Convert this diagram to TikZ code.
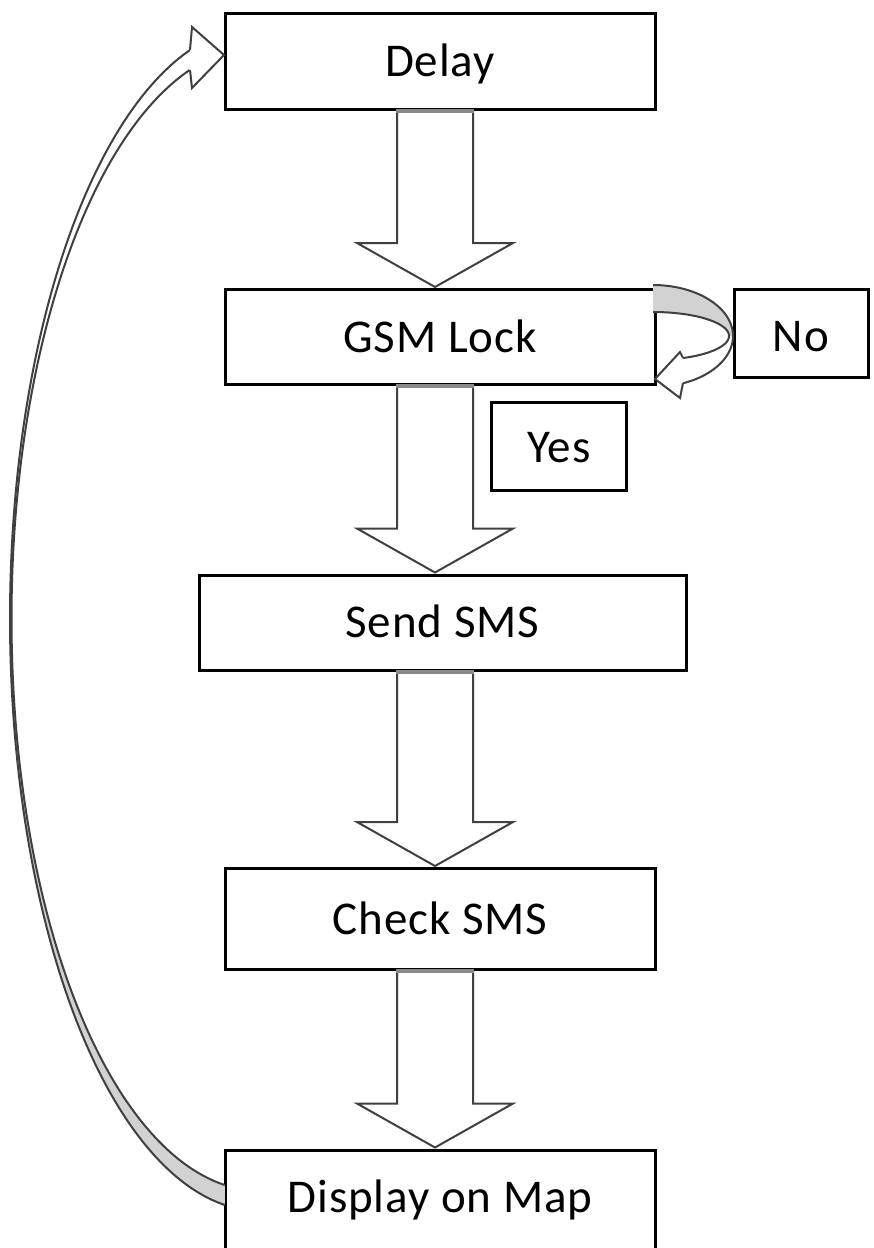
\documentclass[tikz,border=0pt]{standalone}
\usepackage{fontspec}
\setmainfont{Carlito}[LetterSpace=2]
\usetikzlibrary{calc}
\definecolor{arrline}{HTML}{404040}
\definecolor{arrtop}{HTML}{8A8A8A}
\definecolor{bandfill}{HTML}{D2D2D2}
\tikzset{
  lbl/.style={font=\fontsize{47}{54}\selectfont, text height=30pt, text depth=0pt},
  box/.style={draw=black, line width=3pt, fill=white, inner sep=0pt, lbl},
  blk/.style={draw=arrline, line width=2pt, fill=white, line join=miter},
  blktop/.style={draw=arrtop, line width=4pt},
  band/.style={draw=arrline, line width=2pt},
}
\begin{document}
\begin{tikzpicture}[x=1pt,y=-1pt]
\useasboundingbox (0,0) rectangle (874,1248);
\fill[white] (0,0) rectangle (874,1248);
% boxes
\node[box, minimum width=430pt, minimum height=96pt] (delay) at (440,61) {Delay};
\node[box, minimum width=430pt, minimum height=95pt] (gsm) at (440,337) {GSM Lock};
\node[box, minimum width=134pt, minimum height=88pt, text height=36pt] (no) at (801,333.5) {No};
\node[box, minimum width=135pt, minimum height=88pt, text height=32pt] (yes) at (559,446) {Yes};
\node[box, minimum width=487pt, minimum height=95pt] (send) at (442.5,622.5) {Send SMS};
\node[box, minimum width=430pt, minimum height=101pt] (check) at (440,919) {Check SMS};
\node[box, minimum width=430pt, minimum height=110pt] (display) at (440,1205) {};
\node[lbl, inner sep=0pt] (disptext) at (440,1197) {Display on Map};
% block arrows
\foreach \a/\b in {delay/gsm, gsm/send, send/check, check/display}{
  \draw[blk] let \p1=(\a.south), \p2=(\b.north) in
    (397pt,\y1) -- (397pt,\y2+45pt) -- (357pt,\y2+45pt) -- (435pt,\y2+1pt)
    -- (513pt,\y2+45pt) -- (473pt,\y2+45pt) -- (473pt,\y1);
  \draw[blktop] let \p1=(\a.south) in (396pt,\y1) -- (474pt,\y1);
}
% loop arrow GSM Lock -> No -> GSM Lock
\fill[bandfill] plot[domain=-90:0, samples=40, smooth, variable=\t] ({653+80*cos(\t)},{336+51*sin(\t)})
  -- plot[domain=0:-90, samples=40, smooth, variable=\t] ({653+76*cos(\t)},{336+24*sin(\t)}) -- cycle;
\draw[band] plot[domain=-90:68, samples=60, smooth, variable=\t] ({653+80*cos(\t)},{336+51*sin(\t)});
\draw[band] plot[domain=-90:66.7, samples=60, smooth, variable=\t] ({653+76*cos(\t)},{336+24*sin(\t)});
\draw[band, fill=white, line join=miter] (683,383) -- (680,398) -- (655,379) -- (680,352) -- (683,358);
% big return arrow Display on Map -> Delay
\fill[bandfill] plot[domain=98.05:180, samples=80, smooth, variable=\t] ({260+250*cos(\t)},{618.6+592.3*sin(\t)})
  -- plot[domain=180:98.15, samples=80, smooth, variable=\t] ({260+248.5*cos(\t)},{618.7+572.1*sin(\t)}) -- cycle;
\draw[band] plot[domain=98.05:253.74, samples=160, smooth, variable=\t] ({260+250*cos(\t)},{618.6+592.3*sin(\t)});
\draw[band] plot[domain=98.15:253.54, samples=160, smooth, variable=\t] ({260+248.5*cos(\t)},{618.7+572.1*sin(\t)});
\draw[band, fill=white, line join=miter] (190,50) -- (192,27) -- (224,55) -- (192,88) -- (190,70);
\end{tikzpicture}
\end{document}
